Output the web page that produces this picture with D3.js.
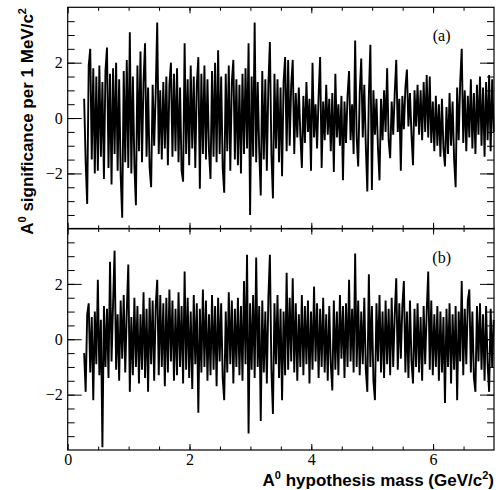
<!DOCTYPE html>
<html>
<head>
<meta charset="utf-8">
<script src="https://cdn.jsdelivr.net/npm/d3@7"></script>
<style>
  html, body { margin: 0; padding: 0; background: #fff; }
  svg { display: block; }
</style>
</head>
<body>
<svg id="chart" width="496" height="490"></svg>
<script>
'use strict';

// Significance per 1 MeV/c^2 bin, sampled every 25 MeV starting at 0.27 GeV/c^2.
const massStart = 0.27,
  massStep = 0.025;

// Panel (a)
const sigA = [
  0.7, -1.6, -3.1, 1.9, 2.5, -1.5, 1.8, -2.0, 1.5, -1.9,
  1.9, -1.4, 1.3, -2.2, 1.7, 2.55, -1.8, 1.6, -2.4, 1.8,
  -1.3, 2.0, -1.9, 1.4, -2.1, -3.6, 1.7, -1.6, 2.1, -1.8,
  3.1, -2.0, 1.5, -1.7, -3.15, 1.9, -1.2, 2.4, -1.6, 1.3,
  2.7, -1.4, 1.1, -1.8, -2.5, 1.2, -1.0, 0.9, 3.45, -1.3,
  1.0, -1.5, 1.3, -1.1, 1.5, -1.7, 1.2, 2.0, -1.4, 1.6,
  -1.2, 1.8, -1.6, 1.1, -1.9, -2.3, 2.7, -1.3, 1.4, -1.7,
  1.9, -1.1, 1.5, -1.8, 1.2, 2.2, -2.55, 1.6, -1.3, 1.9,
  -1.5, 1.4, -1.2, -2.2, 1.7, -1.4, 2.0, -1.6, 2.45, -1.3,
  1.5, -1.8, -2.7, 1.6, -1.2, 1.9, -1.9, 1.3, 2.1, -1.5,
  1.4, -1.7, 1.2, -2.0, 1.6, -1.3, 1.8, -1.1, 2.7, -3.5,
  1.5, -1.4, 3.45, -1.6, 1.3, -1.2, -2.8, 1.7, -1.5, 1.4,
  -1.9, 1.2, 2.75, -1.3, -2.9, 1.6, -1.1, 1.4, -1.6, 1.1,
  -2.1, 1.3, 2.2, -1.2, 2.1, -1.0, 1.2, 2.1, -1.3, 0.9,
  -0.7, 1.1, -0.6, -1.8, 0.8, -0.9, 1.3, -0.5, 0.7, -1.9,
  2.0, -0.7, 0.5, -1.1, 0.8, 2.2, -1.8, 0.6, -0.8, 1.2,
  -0.6, 0.7, -1.2, 0.9, -1.95, 1.6, -0.7, 0.5, -1.0, 0.8,
  -2.25, 0.6, -0.9, 0.8, 1.7, -0.8, 0.5, -1.3, 2.8, -0.7,
  -1.75, 0.9, 2.15, -0.7, 1.2, -1.0, -2.65, 0.8, 2.65, -2.6,
  1.0, -0.6, 0.7, -1.1, -2.25, 0.7, -0.8, 1.0, -0.5, 1.8,
  -0.8, -1.45, 0.6, -0.6, 0.9, 2.1, -0.5, 0.7, -1.9, 0.8,
  -0.4, 1.1, 1.75, -0.3, 0.9, -0.6, -1.7, 1.0, -0.3, 1.2,
  -0.6, 1.0, -0.8, 1.3, -0.5, 1.55, -0.7, 1.5, -0.9, 0.6,
  -1.2, 0.8, -1.0, 0.5, -1.4, 0.7, -1.1, -1.75, 0.4, -1.3,
  0.9, -1.0, 0.6, -1.5, -2.5, 1.1, -0.8, 1.3, 2.5, -0.9,
  1.0, -1.2, 0.8, -0.7, 1.4, -1.1, 0.9, -1.3, 1.2, -0.6,
  1.5, -1.0, 1.1, -1.4, 1.3, -0.8, 1.55, -1.2, 1.4, -0.5
];

// Panel (b)
const sigB = [
  -0.5, -1.9, 0.9, 1.3, -1.2, 0.8, -2.2, 1.0, -0.9, 2.15,
  -1.3, 0.7, -3.9, 1.2, -1.0, 1.1, -1.4, 2.8, -0.8, 1.3,
  3.2, -1.1, 0.9, -1.5, 1.4, -0.7, 1.6, -1.2, 1.0, 2.7,
  -1.9, 0.8, -1.3, 1.5, -1.0, 1.2, -1.6, 0.9, -1.1, 1.7,
  -1.4, 1.1, -1.9, 1.5, -0.9, 1.4, -1.5, 1.2, 2.15, -1.3,
  1.6, -1.0, 1.3, -1.7, 1.5, -1.2, 1.8, -0.8, 1.4, -1.5,
  1.1, -1.3, 1.7, -1.0, 1.2, -1.6, 2.45, -1.1, 1.5, -1.4,
  1.0, -1.8, 1.6, -0.9, 1.3, -2.65, 1.1, -1.2, 1.8, -1.0,
  1.4, -1.5, 0.9, -1.3, 1.6, -1.1, 1.2, -1.7, 1.5, -0.8,
  1.3, -1.4, -2.2, 1.0, -1.2, 1.7, -0.9, 1.4, -1.6, 1.1,
  -1.0, 1.5, -1.3, 1.2, -1.5, 2.1, -0.9, 3.05, -3.4, 1.3,
  -1.1, 1.6, -1.4, 2.95, -1.0, 1.2, -2.95, 1.4, -1.2, 1.0,
  -1.6, 1.5, 3.05, -1.1, -2.7, 1.3, -0.9, 1.6, -1.4, 1.1,
  -2.2, 1.0, -1.3, 2.4, -1.1, 1.5, -0.8, 2.2, -1.2, 1.3,
  -1.5, 0.9, -1.0, 1.6, -1.3, 1.2, -0.9, 1.4, -1.6, 1.0,
  -1.1, 1.9, -0.8, 1.3, -1.4, 1.1, -1.0, 1.5, -1.2, 0.9,
  -1.5, 1.2, -0.9, -1.85, 1.4, -1.1, 1.0, -1.3, 1.6, -0.7,
  1.2, -1.4, 1.3, -1.0, 2.15, -0.8, 1.1, -1.2, 3.1, -1.0,
  1.4, -1.3, 1.0, -0.9, 1.5, -1.1, -1.9, 2.35, -1.0, 1.2,
  -1.5, -2.2, 1.3, -0.8, 1.6, -1.2, 1.0, -1.4, 1.4, -0.9,
  1.1, -1.3, 1.5, -1.0, 0.9, 2.2, -1.1, 1.3, -0.7, 1.2,
  2.1, -1.2, 1.0, -1.4, 1.4, -0.8, -1.6, 1.1, -1.0, 1.3,
  -1.2, 0.8, -1.5, 1.2, -0.9, 1.0, 2.45, -1.1, 1.4, -1.3,
  0.9, -1.0, 1.2, -1.5, 1.0, -1.2, 0.8, -2.3, 1.1, -1.0,
  1.3, -1.6, 0.9, -1.1, 1.2, -2.2, 1.0, -0.8, 2.1, -1.3,
  1.1, -0.9, 1.4, 1.8, -1.2, 1.0, -1.4, -1.9, 1.2, -0.8,
  1.3, -1.1, 0.9, -1.5, 1.2, -0.9, -1.9, 1.1, -1.0, 0.7
];

const xMajorTicks = [0, 2, 4, 6],
  yMajorTicks = [-2, 0, 2],
  panelLabels = ['(a)', '(b)'];

const serif = "'Liberation Serif', 'DejaVu Serif', serif",
  sans = "'Liberation Sans', Arial, sans-serif";

const svg = d3.select('#chart'),
  left = 67.7,
  right = 494,
  panelTops = [7.3, 228.5],
  panelHeight = 221.5;

const x = d3.scaleLinear().domain([0, 7]).range([left, right]);
const xMinor = d3.range(0.5, 7, 0.5);
const yMinor = d3.range(-3.5, 4, 0.5);

function styleLabels(sel) {
  sel.selectAll('text')
    .style('font-family', serif)
    .style('font-size', '16px')
    .attr('fill', '#000');
}

function drawPanel(values, top, label, showXLabels) {
  const bottom = top + panelHeight;
  const y = d3.scaleLinear().domain([-4, 4]).range([bottom, top]);
  const g = svg.append('g');

  // Data line
  const line = d3
    .line()
    .x((d, i) => x(massStart + i * massStep))
    .y(d => y(d));
  g.append('path')
    .datum(values)
    .attr('d', line)
    .attr('fill', 'none')
    .attr('stroke', '#000')
    .attr('stroke-width', 1.9);

  // Y axis ticks, both sides, pointing inward
  const yAxes = [
    [d3.axisLeft(y).tickValues(yMinor).tickSize(-7), left, false],
    [d3.axisRight(y).tickValues(yMinor).tickSize(-7), right, false],
    [d3.axisLeft(y).tickValues(yMajorTicks).tickSize(-14).tickPadding(5).tickFormat(d3.format('d')), left, true],
    [d3.axisRight(y).tickValues(yMajorTicks).tickSize(-14), right, false]
  ];
  yAxes.forEach(([axis, xPos, keepText]) => {
    const a = g.append('g').attr('transform', `translate(${xPos},0)`).call(axis);
    a.select('.domain').remove();
    a.selectAll('line').attr('stroke', '#000');
    if (keepText) styleLabels(a);
    else a.selectAll('text').remove();
  });

  // X axis ticks on top and bottom of the frame
  const xAxes = [
    [d3.axisTop(x).tickValues(xMinor).tickSize(-3.5), top, false],
    [d3.axisTop(x).tickValues(xMajorTicks).tickSize(-6), top, false],
    [d3.axisBottom(x).tickValues(xMinor).tickSize(-3.5), bottom, false],
    [d3.axisBottom(x).tickValues(xMajorTicks).tickSize(-6).tickPadding(4).tickFormat(d3.format('d')), bottom, showXLabels]
  ];
  xAxes.forEach(([axis, yPos, keepText]) => {
    const a = g.append('g').attr('transform', `translate(0,${yPos})`).call(axis);
    a.select('.domain').remove();
    a.selectAll('line').attr('stroke', '#000');
    if (keepText) styleLabels(a);
    else a.selectAll('text').remove();
  });

  // Frame
  g.append('rect')
    .attr('x', left)
    .attr('y', top)
    .attr('width', right - left)
    .attr('height', panelHeight)
    .attr('fill', 'none')
    .attr('stroke', '#000')
    .attr('stroke-width', 1.2);

  g.append('text')
    .attr('x', x(6.14))
    .attr('y', top + 34)
    .attr('text-anchor', 'middle')
    .style('font-family', serif)
    .style('font-size', '16px')
    .text(label);
}

drawPanel(sigA, panelTops[0], panelLabels[0], false);
drawPanel(sigB, panelTops[1], panelLabels[1], true);

// Axis titles
function titleParts(sel, parts) {
  parts.forEach(([txt, sup]) => {
    if (sup) {
      sel.append('tspan').attr('dy', -7).style('font-size', '11px').text(txt);
    } else {
      sel.append('tspan').attr('dy', sel.node().childNodes.length ? 7 : 0).text(txt);
    }
  });
}

const xTitle = svg.append('text')
  .attr('x', right)
  .attr('y', 479)
  .attr('text-anchor', 'end')
  .style('font-family', sans)
  .style('font-weight', 'bold')
  .style('font-size', '17px');
titleParts(xTitle, [['A'], ['0', true], [' hypothesis mass (GeV/c'], ['2', true], [')']]);

const yTitle = svg.append('text')
  .attr('transform', 'translate(26,8) rotate(-90)')
  .attr('text-anchor', 'end')
  .style('font-family', sans)
  .style('font-weight', 'bold')
  .style('font-size', '17px');
titleParts(yTitle, [['A'], ['0', true], [' significance per 1 MeV/c'], ['2', true]]);
</script>
</body>
</html>
